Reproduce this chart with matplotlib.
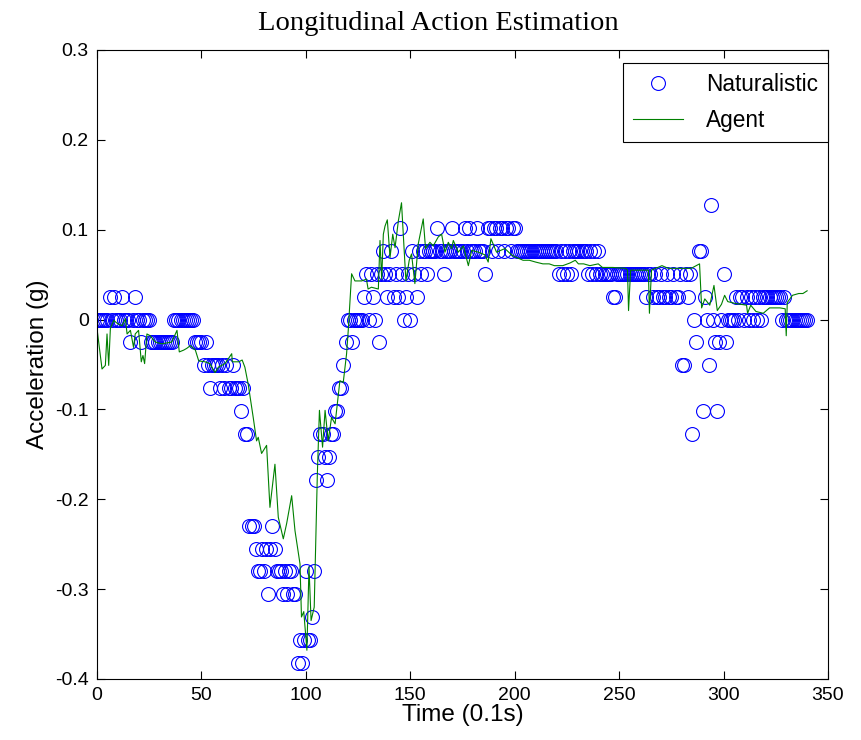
import matplotlib
matplotlib.use('Agg')
import matplotlib.pyplot as plt
import numpy as np

plt.rcParams['font.family'] = ['Liberation Sans', 'DejaVu Sans']

# naturalistic accelerations, in steps of 0.25 m/s^2, one value per 0.1 s (t = 0..340)
nat_steps = [
    0, 0, 0, 0, 0, 0, 1, 0, 1, 0,
    0, 0, 1, 0, 0, 0, -1, 0, 1, 0,
    0, -1, 0, 0, 0, 0, -1, -1, -1, -1,
    -1, -1, -1, -1, -1, -1, -1, 0, 0, 0,
    0, 0, 0, 0, 0, 0, 0, -1, -1, -1,
    -1, -2, -1, -2, -3, -2, -2, -2, -2, -3,
    -2, -3, -2, -3, -3, -2, -3, -3, -3, -4,
    -3, -5, -5, -9, -9, -9, -10, -11, -11, -10,
    -11, -10, -12, -10, -9, -10, -11, -11, -11, -12,
    -11, -12, -11, -11, -12, -12, -15, -14, -15, -14,
    -11, -14, -14, -13, -11, -7, -6, -5, -5, -6,
    -7, -6, -5, -5, -4, -4, -3, -3, -2, -1,
    0, 0, -1, 0, 0, 0, 0, 0, 1, 2,
    0, 2, 1, 0, 2, -1, 2, 3, 2, 1,
    2, 3, 1, 2, 1, 4, 2, 0, 1, 2,
    0, 3, 2, 1, 3, 2, 3, 3, 2, 3,
    3, 3, 3, 4, 3, 3, 2, 3, 3, 3,
    4, 3, 3, 3, 3, 3, 4, 3, 4, 3,
    3, 3, 4, 3, 3, 3, 2, 4, 4, 3,
    4, 4, 3, 4, 4, 3, 4, 4, 3, 4,
    4, 3, 3, 3, 3, 3, 3, 3, 3, 3,
    3, 3, 3, 3, 3, 3, 3, 3, 3, 3,
    3, 2, 3, 2, 3, 2, 3, 2, 3, 3,
    3, 3, 3, 3, 3, 2, 3, 2, 3, 2,
    3, 2, 2, 2, 2, 2, 2, 1, 1, 2,
    2, 2, 2, 2, 2, 2, 2, 2, 2, 2,
    2, 2, 2, 1, 2, 2, 1, 2, 1, 1,
    2, 1, 1, 2, 1, 1, 2, 1, 1, 2,
    -2, -2, 2, 1, 2, -5, 0, -1, 3, 3,
    -4, 1, 0, -2, 5, 0, -1, -4, -1, 0,
    2, -1, 0, 0, 0, 0, 1, 0, 1, 1,
    0, 1, 0, 1, 0, 1, 0, 1, 0, 1,
    1, 1, 1, 1, 1, 1, 1, 1, 0, 1,
    0, 0, 0, 0, 0, 0, 0, 0, 0, 0,
    0,
]
nat_time = np.arange(len(nat_steps))
nat_acc = np.array(nat_steps) * 0.25 / 9.81

# agent trace (time in 0.1 s, acceleration in g)
agent_time = [
    0, 2.4, 4, 4.8, 5.6, 6.4, 8, 9.6, 12, 13.6, 14.4, 16, 17.5, 18.3, 19.9,
    21.2, 22, 22.8, 23.9, 25.5, 27.9, 31, 35.8, 38.3, 39.4, 41.5, 43, 44.7,
    47.1, 48.7, 51.7, 54, 56.5, 58.1, 61.3, 64.5, 64.8, 67.9, 69.5, 70.8,
    72.4, 74.8, 76.4, 77.2, 78.8, 81.2, 82.8, 85.2, 86.8, 89.2, 90.8, 93.2,
    94.8, 97.2, 97.9, 99, 100.5, 101.5, 102.5, 104, 105.5, 106.5, 108, 109.2,
    110.7, 112.3, 114, 116.3, 117.9, 119.5, 120.3, 121.9, 123.5, 126.7, 129,
    129.8, 131.4, 134.7, 135.5, 136.3, 137.1, 137.9, 139, 140.3, 141.6, 142.7,
    144.3, 145.8, 147.9, 149.5, 150.6, 152.2, 153.8, 156.2, 157.3, 159.4, 161,
    163.4, 165, 166.6, 168.2, 169.8, 170.6, 173, 175.4, 177.8, 179.4, 182.6,
    185.8, 187.3, 188.6, 191.3, 195.3, 198.5, 200, 204, 207, 210, 213.5,
    216.5, 219, 223, 226.5, 229, 230.5, 233, 236, 240, 242, 247, 253, 254,
    254.5, 255.5, 264, 264.5, 265.5, 270.5, 273.5, 280, 284.5, 288.5, 289.5,
    291, 293.4, 295.4, 297, 299, 300.5, 302, 305.5, 311, 311.5, 313, 315.5,
    319, 322, 327, 329.5, 330, 330.5, 333, 336, 338, 340,
]
agent_acc = [
    -0.010, -0.055, -0.051, -0.016, -0.051, -0.010, -0.001, -0.004, -0.007,
    0.001, -0.016, -0.012, -0.031, -0.016, -0.012, -0.047, -0.040, -0.049,
    -0.016, -0.018, -0.025, -0.027, -0.025, -0.012, -0.036, -0.034, -0.032,
    -0.029, -0.034, -0.046, -0.047, -0.049, -0.059, -0.053, -0.049, -0.038,
    -0.047, -0.047, -0.045, -0.053, -0.072, -0.109, -0.135, -0.131, -0.149,
    -0.140, -0.209, -0.161, -0.220, -0.244, -0.227, -0.196, -0.235, -0.272,
    -0.331, -0.325, -0.368, -0.275, -0.335, -0.320, -0.172, -0.101, -0.142,
    -0.101, -0.135, -0.109, -0.116, -0.068, -0.070, -0.038, -0.012, 0.051,
    0.043, 0.043, 0.045, 0.034, 0.036, 0.034, 0.088, 0.045, 0.095, 0.104,
    0.111, 0.069, 0.095, 0.080, 0.110, 0.130, 0.043, 0.066, 0.073, 0.040,
    0.084, 0.112, 0.079, 0.086, 0.082, 0.092, 0.095, 0.075, 0.086, 0.079,
    0.088, 0.075, 0.082, 0.060, 0.077, 0.075, 0.072, 0.064, 0.090, 0.075,
    0.079, 0.072, 0.070, 0.066, 0.066, 0.064, 0.062, 0.062, 0.060, 0.060,
    0.063, 0.066, 0.062, 0.062, 0.060, 0.062, 0.058, 0.058, 0.057, 0.055,
    0.010, 0.055, 0.055, 0.007, 0.055, 0.060, 0.057, 0.057, 0.057, 0.062,
    0.013, 0.023, 0.016, 0.038, 0.010, 0.017, 0.027, 0.020, 0.018, 0.016,
    0.007, 0.016, 0.009, 0.007, 0.013, 0.013, 0.012, -0.018, 0.019, 0.027,
    0.029, 0.029, 0.032,
]

x_ticks = [0, 50, 100, 150, 200, 250, 300, 350]
y_ticks = [-0.4, -0.3, -0.2, -0.1, 0, 0.1, 0.2, 0.3]
y_tick_labels = ['-0.4', '-0.3', '-0.2', '-0.1', '0', '0.1', '0.2', '0.3']

fig = plt.figure(figsize=(8.61, 7.40), dpi=100)
ax = fig.add_axes([97 / 861, 1 - 679 / 740, (828 - 97) / 861, (679 - 50) / 740])

ax.plot(nat_time, nat_acc, 'o', markerfacecolor='none', markeredgecolor='#0000ff',
        markersize=10, markeredgewidth=0.8, label='Naturalistic')
ax.plot(agent_time, agent_acc, '-', color='#008000', linewidth=0.8, label='Agent')

ax.set_xlim(0, 350)
ax.set_ylim(-0.4, 0.3)
ax.set_xticks(x_ticks)
ax.set_yticks(y_ticks)
ax.set_yticklabels(y_tick_labels)
ax.tick_params(direction='in', top=True, right=True, length=6, width=0.8,
               labelsize=14, pad=6)
for s in ax.spines.values():
    s.set_linewidth(0.8)

ax.set_xlabel('Time (0.1s)', fontsize=17.5, labelpad=0)
ax.set_ylabel('Acceleration (g)', fontsize=17.5, labelpad=4)

fig.text(438 / 861, 1 - 30 / 740, 'Longitudinal Action Estimation', ha='center',
         va='baseline', fontsize=20.5, family=['Liberation Serif', 'DejaVu Serif'])

leg = ax.legend(loc='upper right', bbox_to_anchor=(1.0, (679 - 63) / 629),
                borderaxespad=0, fontsize=16.3, fancybox=False, edgecolor='black',
                framealpha=1, handlelength=2.2, handletextpad=1.0,
                labelspacing=0.55, borderpad=0.45)
leg.get_frame().set_linewidth(0.8)

plt.savefig('out.png', dpi=100, facecolor='white')
